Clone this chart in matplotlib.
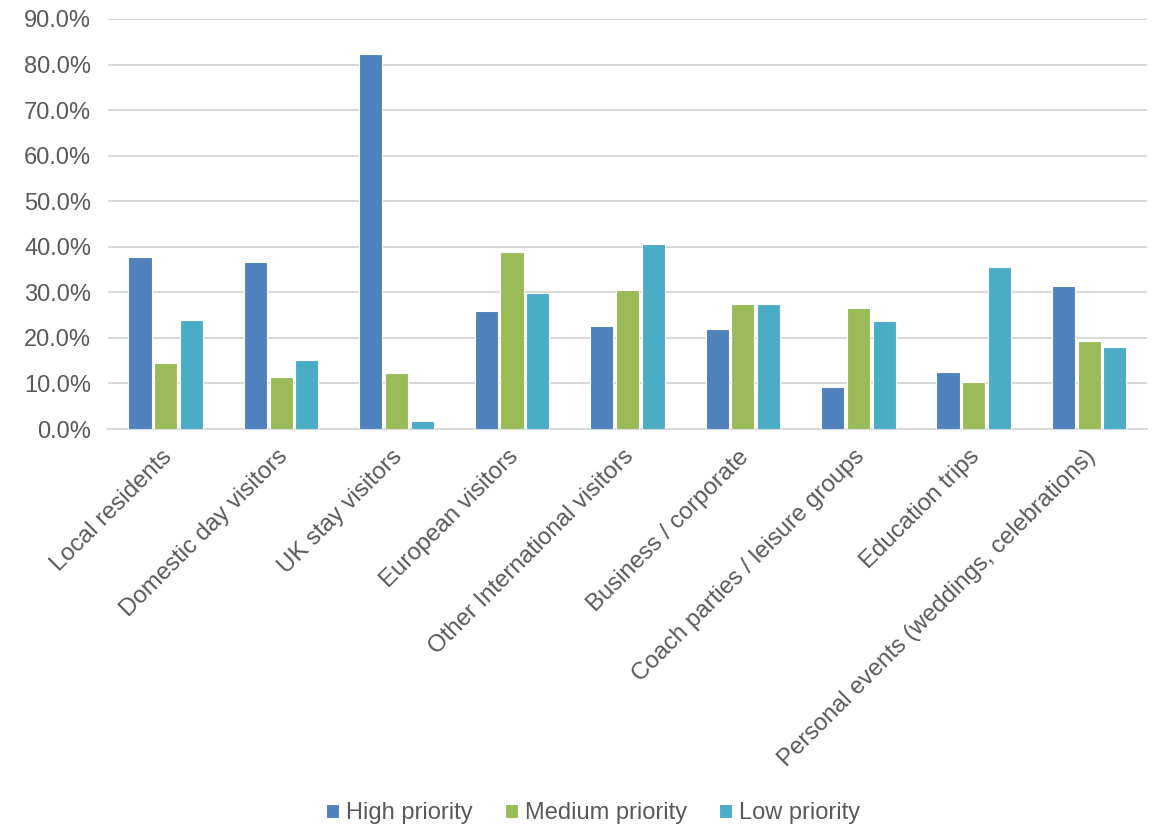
import matplotlib
matplotlib.use("Agg")
import matplotlib.pyplot as plt
import matplotlib.transforms as mtransforms
import numpy as np
from matplotlib.ticker import FuncFormatter, MultipleLocator

plt.rcParams['font.family'] = ['Liberation Sans', 'DejaVu Sans']

categories = [
    "Local residents",
    "Domestic day visitors",
    "UK stay visitors",
    "European visitors",
    "Other International visitors",
    "Business / corporate",
    "Coach parties / leisure groups",
    "Education trips",
    "Personal events (weddings, celebrations)",
]
series_names = ["High priority", "Medium priority", "Low priority"]
high = [37.7, 36.7, 82.4, 25.9, 22.6, 21.9, 9.3, 12.5, 31.3]
medium = [14.4, 11.4, 12.2, 38.9, 30.6, 27.5, 26.6, 10.3, 19.3]
low = [24.0, 15.1, 1.7, 29.8, 40.6, 27.5, 23.6, 35.6, 17.9]
colors = ["#4f81bd", "#9bbb59", "#4bacc6"]

text_color = "#595959"
grid_color = "#d9d9d9"

fig = plt.figure(figsize=(11.55, 8.25), dpi=100)
ax = fig.add_axes([0.0935, 0.48, 0.8995, 0.497])

x = np.arange(len(categories))
width = 0.2
offsets = [-0.223, 0.0, 0.223]
for vals, off, col, name in zip([high, medium, low], offsets, colors, series_names):
    ax.bar(x + off, vals, width, color=col, edgecolor="white", linewidth=0.8,
           label=name, zorder=3)

ax.set_xlim(-0.5, len(categories) - 0.5)
ax.set_ylim(0, 90)
ax.yaxis.set_major_locator(MultipleLocator(10))
ax.yaxis.set_major_formatter(FuncFormatter(lambda v, p: f"{v:.1f}%"))
ax.grid(axis="y", color=grid_color, linewidth=1.5, zorder=0)
ax.set_axisbelow(True)

for s in ["top", "right", "left"]:
    ax.spines[s].set_visible(False)
ax.spines["bottom"].set_color(grid_color)
ax.spines["bottom"].set_linewidth(1.5)

ax.tick_params(axis="y", length=0, labelsize=17, labelcolor=text_color, pad=12)
ax.tick_params(axis="x", length=0, labelsize=17.3, labelcolor=text_color, pad=12)
ax.set_xticks(x)
ax.set_xticklabels(categories, rotation=45, ha="right", rotation_mode="anchor")
shift = mtransforms.ScaledTranslation(-5 / 100, 0, fig.dpi_scale_trans)
for lbl in ax.get_xticklabels():
    lbl.set_transform(lbl.get_transform() + shift)

fig.legend(loc="center", bbox_to_anchor=(0.5134, 0.014), ncol=3, frameon=False,
           fontsize=17, handlelength=0.55, handleheight=0.55, handletextpad=0.3,
           columnspacing=1.35, labelcolor=text_color)

fig.savefig("out.png", dpi=100)
